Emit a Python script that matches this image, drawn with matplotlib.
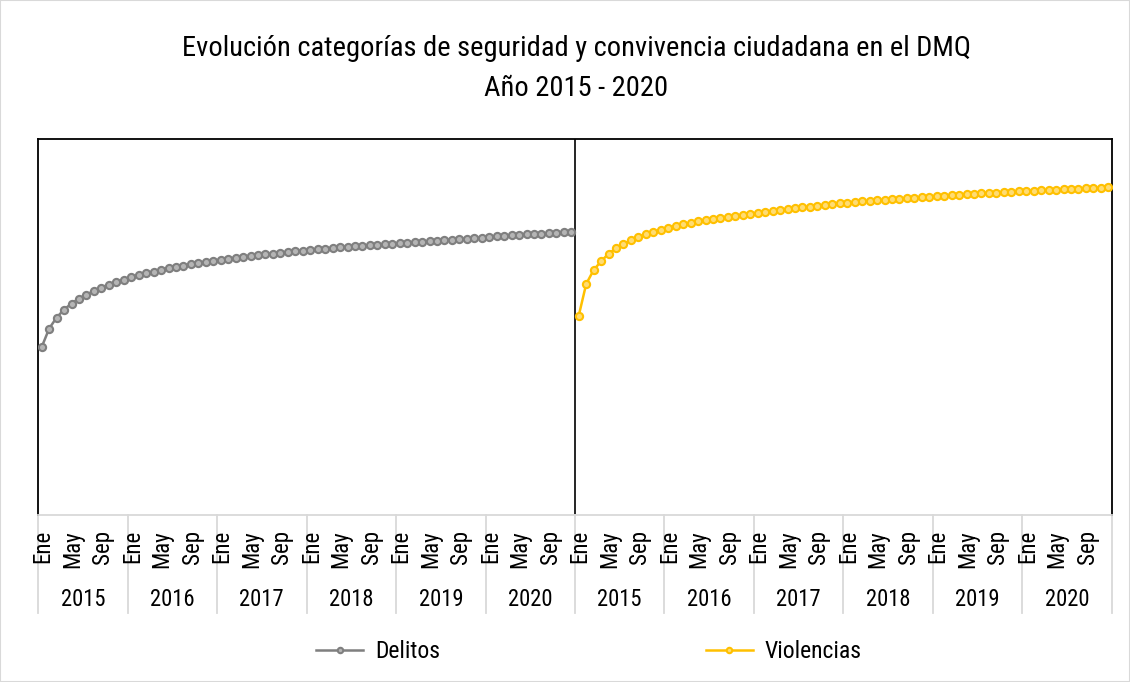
import matplotlib
matplotlib.use("Agg")
import matplotlib.pyplot as plt
from matplotlib.transforms import blended_transform_factory
from matplotlib.patches import Rectangle

plt.rcParams["font.family"] = ["Roboto Condensed", "DejaVu Sans"]

# ---------------- data ----------------
years = ["2015", "2016", "2017", "2018", "2019", "2020"]
month_labels = ["Ene", "May", "Sep"]
month_index = [0, 4, 8]

delitos = [168, 186.5, 197.5, 205.5, 211.5, 216.5, 220.5, 224, 227.5, 230.5,
           233, 235.5, 238, 240, 242, 243.5, 245.5, 247, 248.5, 249.5,
           251, 252, 253.5, 254.5, 255.5, 256.5, 257.5, 258.5, 259.5, 260,
           261, 261.5, 262.5, 263, 264, 264.5, 265.5, 266, 266.5, 267.5,
           268, 268.5, 269, 269.5, 270, 270.5, 271, 271.5, 272, 272.5,
           273, 273.5, 274, 274.5, 275, 275.5, 276, 276.5, 277, 277.5,
           278, 279, 279.5, 280, 280.2, 280.6, 281, 281.4, 281.8, 282.2,
           282.6, 283]

violencias = [199.3, 231, 245, 253.7, 261.3, 266.7, 271, 275, 278, 280.7,
              282.7, 285, 287.3, 289, 290.7, 292.3, 293.7, 294.7, 296, 297.3,
              298.3, 299.3, 300.3, 301.3, 302, 303, 304, 305, 306, 307,
              307.7, 308.5, 309.3, 310, 310.8, 311.6, 312.3, 313, 313.6, 314.2,
              314.8, 315.4, 316, 316.5, 317, 317.5, 318, 318.5, 319, 319.5,
              320, 320.4, 320.8, 321.2, 321.7, 322.1, 322.5, 322.9, 323.3, 323.7,
              324, 324.4, 324.7, 325, 325.4, 325.7, 326, 326.3, 326.7, 327,
              327.3, 327.7]

n = len(delitos)
x_del = list(range(n))
x_vio = list(range(n, n + len(violencias)))
total = n + len(violencias)

GRAY = "#7f7f7f"
YELLOW = "#ffc000"

W, H = 1130, 682
fig = plt.figure(figsize=(W / 100, H / 100), dpi=100)
ax = fig.add_axes([38 / W, 1 - 515 / H, (1112 - 38) / W, (515 - 139) / H])

ax.plot(x_del, delitos, color=GRAY, lw=1.8, marker="o", ms=5.2,
        mfc="#b5b5b5", mec=GRAY, mew=1.5, label="Delitos", zorder=3)
ax.plot(x_vio, violencias, color=YELLOW, lw=1.8, marker="o", ms=5.2,
        mfc="#ffdc73", mec=YELLOW, mew=1.5, label="Violencias", zorder=3)

ax.set_xlim(-0.5, total - 0.5)
ax.set_ylim(0, 376)
ax.set_yticks([])
ax.set_xticks([])

for s in ["left", "top", "right"]:
    ax.spines[s].set_color("black")
    ax.spines[s].set_linewidth(1.3)
ax.spines["bottom"].set_color("#d9d9d9")
ax.spines["bottom"].set_linewidth(1.3)
ax.axvline(n - 0.5, color="black", lw=1.2, zorder=2)

tr = blended_transform_factory(ax.transData, ax.transAxes)

# month labels
for g in range(total // 12):
    for mi, ml in zip(month_index, month_labels):
        ax.text(g * 12 + mi + 0.15, (515 - 530) / 376, ml, transform=tr,
                rotation=90, ha="center", va="top", fontsize=16.5, color="black")

sep_y = (515 - 613) / 376
for g in range(total // 12 + 1):
    ax.plot([g * 12 - 0.5] * 2, [0, sep_y], transform=tr, color="#d9d9d9",
            lw=1.3, clip_on=False)
year_cycle = years * 2
for g, yl in enumerate(year_cycle):
    ax.text(g * 12 + 5.5, (515 - 599) / 376, yl, transform=tr, ha="center",
            va="center", fontsize=16.3, color="black")

fig.text(576 / W, 1 - 48 / H, "Evolución categorías de seguridad y convivencia ciudadana en el DMQ",
         ha="center", va="center", fontsize=20.5, color="black")
fig.text(576 / W, 1 - 88 / H, "Año 2015 - 2020",
         ha="center", va="center", fontsize=20.5, color="black")

fig.legend(loc="center", bbox_to_anchor=(589 / W, 1 - 652 / H), ncol=2,
           frameon=False, fontsize=17, handlelength=2.0, handletextpad=0.5,
           columnspacing=11.25, markerscale=0.75)

fig.patches.append(Rectangle((0, 0), 1, 1, transform=fig.transFigure,
                             fill=False, edgecolor="#d9d9d9", lw=1.5))

fig.savefig("out.png", dpi=100)
